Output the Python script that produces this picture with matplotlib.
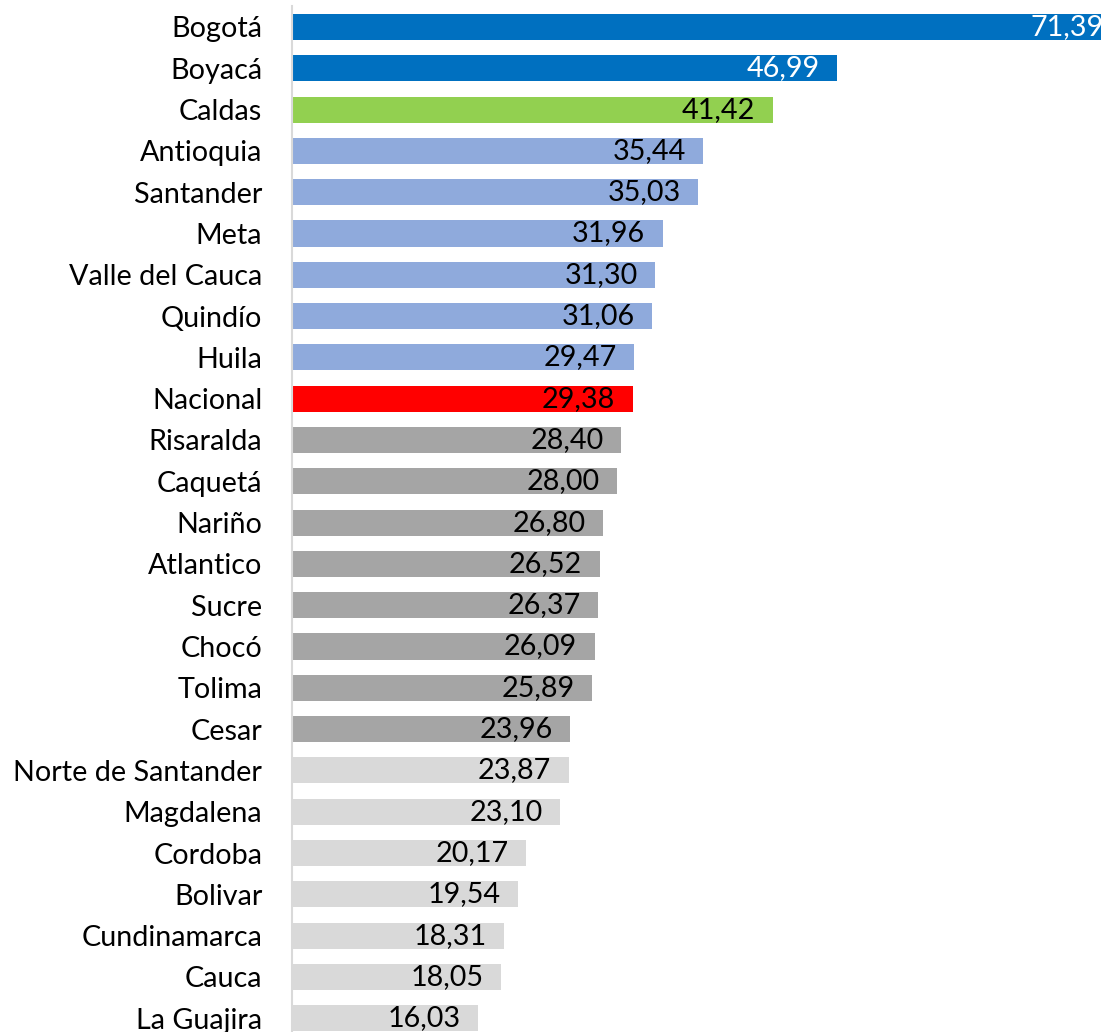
import matplotlib
matplotlib.use("Agg")
import matplotlib.pyplot as plt

plt.rcParams['font.family'] = ['Lato', 'DejaVu Sans']

departamentos = ["Bogotá", "Boyacá", "Caldas", "Antioquia", "Santander", "Meta",
                 "Valle del Cauca", "Quindío", "Huila", "Nacional", "Risaralda",
                 "Caquetá", "Nariño", "Atlantico", "Sucre", "Chocó", "Tolima",
                 "Cesar", "Norte de Santander", "Magdalena", "Cordoba", "Bolivar",
                 "Cundinamarca", "Cauca", "La Guajira"]
valores = [71.39, 46.99, 41.42, 35.44, 35.03, 31.96, 31.30, 31.06, 29.47, 29.38,
           28.40, 28.00, 26.80, 26.52, 26.37, 26.09, 25.89, 23.96, 23.87, 23.10,
           20.17, 19.54, 18.31, 18.05, 16.03]
grupos = ["alto"] * 2 + ["caldas"] + ["medio"] * 6 + ["nacional"] + ["bajo"] * 8 + ["muy_bajo"] * 7

colores = {"alto": "#0070C0", "caldas": "#92D050", "medio": "#8FAADC",
           "nacional": "#FF0000", "bajo": "#A5A5A5", "muy_bajo": "#D9D9D9"}
color_texto = {"alto": "white"}

W, H = 1101, 1032
fig = plt.figure(figsize=(W / 100, H / 100), dpi=100)
x0 = 291.5
row = 41.3
top = 6.35
ax = fig.add_axes([x0 / W, 1 - (top + 25 * row) / H, (W - x0) / W, 25 * row / H])

ypos = list(range(len(departamentos)))
ax.barh(ypos, valores, height=0.63, color=[colores[g] for g in grupos])
ax.set_xlim(0, 69.7)
ax.set_ylim(24.5, -0.5)

# etiquetas dentro del extremo de cada barra (la de Bogotá queda cortada)
for y, v, g in zip(ypos, valores, grupos):
    ax.annotate(f"{v:.2f}".replace(".", ","), xy=(v, y), xytext=(-12.5, 0),
                textcoords="offset points", ha="right", va="center",
                fontsize=20.7, color=color_texto.get(g, "black"),
                annotation_clip=False)

ax.set_yticks(ypos)
ax.set_yticklabels(departamentos, fontsize=20.7)
ax.tick_params(axis="y", length=0, pad=21)
ax.set_xticks([])
for s in ["top", "right", "bottom"]:
    ax.spines[s].set_visible(False)
ax.spines["left"].set_color("#D9D9D9")
ax.spines["left"].set_linewidth(1.5)

fig.savefig("out.png", dpi=100)
